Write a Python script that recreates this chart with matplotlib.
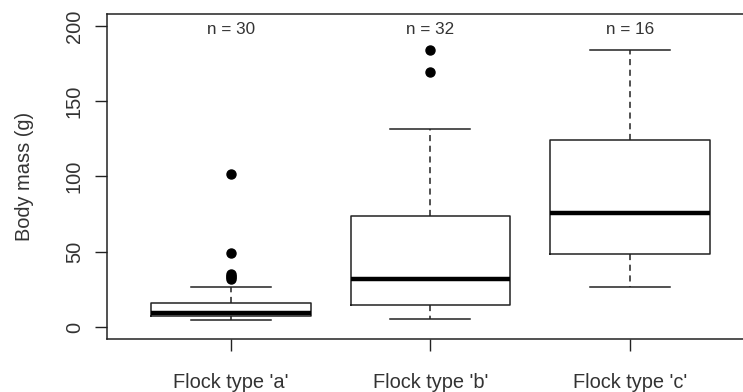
import matplotlib
matplotlib.use("Agg")
import matplotlib.pyplot as plt

categories = ["Flock type 'a'", "Flock type 'b'", "Flock type 'c'"]
counts = [30, 32, 16]
whisker_low = [4.4, 5.1, 26.7]
q1 = [7.3, 14.9, 48.2]
median = [9.3, 32.2, 75.5]
q3 = [15.8, 74.0, 124.2]
whisker_high = [26.7, 131.8, 184.4]
outliers = [[32, 33, 34, 35.5, 49.1, 101.6], [169.3, 184.4], []]
yticks = [0, 50, 100, 150, 200]

plt.rcParams['font.family'] = ['Liberation Sans', 'DejaVu Sans']

fig = plt.figure(figsize=(7.43, 3.92), dpi=100)
ax = fig.add_axes([107/743, 53/392, 646.7/743, 325/392])

stats = []
for i in range(len(categories)):
    stats.append(dict(med=median[i], q1=q1[i], q3=q3[i], whislo=whisker_low[i],
                      whishi=whisker_high[i], fliers=outliers[i], label=categories[i]))

lc = '#222222'
tc = '#333333'
ax.bxp(stats, positions=[1, 2, 3], widths=0.8, capwidths=0.4, showfliers=True,
       boxprops=dict(color=lc, linewidth=1.1),
       medianprops=dict(color='black', linewidth=3.2, solid_capstyle='butt'),
       whiskerprops=dict(color=lc, linewidth=1.1, linestyle=(0, (4, 3))),
       capprops=dict(color=lc, linewidth=1.1),
       flierprops=dict(marker='o', markerfacecolor='black', markeredgecolor='black', markersize=6.5))

for i, n in enumerate(counts):
    ax.text(i + 1, 197.5, f"n = {n}", ha='center', va='center', fontsize=12.3, color=tc)

ax.set_xlim(0.38, 3.62)
ax.set_ylim(-8, 208)
ax.set_yticks(yticks)
ax.set_yticklabels([str(v) for v in yticks], rotation=90, va='center')
ax.set_xticks([1, 2, 3])
ax.set_xticklabels(categories)
ax.tick_params(axis='both', length=8.6, width=1.0, color=lc, labelsize=14.4, labelcolor=tc)
ax.tick_params(axis='x', pad=16)
ax.tick_params(axis='y', pad=8)
for s in ax.spines.values():
    s.set_color(lc)
    s.set_linewidth(1.1)
ax.set_ylabel("Body mass (g)", fontsize=14.4, color=tc, labelpad=22)

fig.savefig("out.png", dpi=100)
